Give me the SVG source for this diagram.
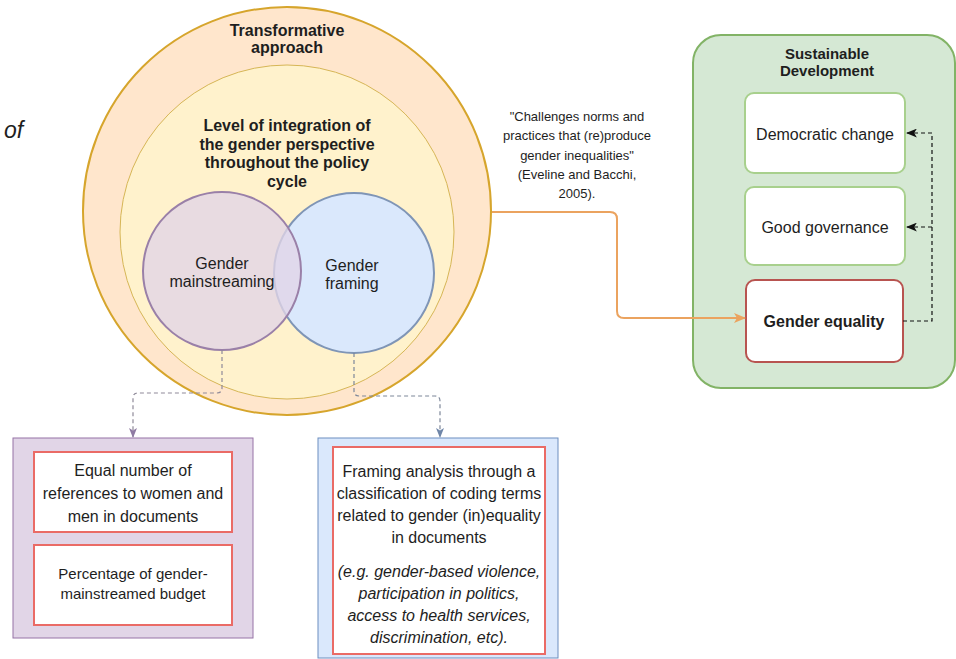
<svg xmlns="http://www.w3.org/2000/svg" width="956" height="659" viewBox="0 0 956 659">
  <defs>
    <style>
      text { font-family: "Liberation Sans", Arial, Helvetica, sans-serif; fill: #1e1e1e; }
      .c { text-anchor: middle; }
      .b { font-weight: bold; }
      .t16 { font-size: 16px; }
      .t15 { font-size: 15px; }
      .t13 { font-size: 13px; }
      .it { font-style: italic; }
      .inbox { fill: #ffffff; stroke: #ea6b66; stroke-width: 2; }
      .greenbox { fill: #ffffff; stroke: #a8d08d; stroke-width: 2; }
      .dash { fill: none; stroke-dasharray: 4 3; stroke-width: 1.2; }
    </style>
    <marker id="arrOrange" viewBox="0 0 12 10" refX="11" refY="5" markerWidth="12" markerHeight="10" markerUnits="userSpaceOnUse" orient="auto">
      <path d="M0,0 L12,5 L0,10 L3,5 Z" fill="#eba35f"/>
    </marker>
    <marker id="arrBlack" viewBox="0 0 10 8" refX="9" refY="4" markerWidth="11" markerHeight="9" markerUnits="userSpaceOnUse" orient="auto">
      <path d="M0,0 L10,4 L0,8 L2.5,4 Z" fill="#111"/>
    </marker>
    <marker id="arrPurple" viewBox="0 0 10 8" refX="9" refY="4" markerWidth="10" markerHeight="8" markerUnits="userSpaceOnUse" orient="auto">
      <path d="M0,0 L10,4 L0,8 L2.5,4 Z" fill="#8f7ba3"/>
    </marker>
    <marker id="arrBlue" viewBox="0 0 10 8" refX="9" refY="4" markerWidth="10" markerHeight="8" markerUnits="userSpaceOnUse" orient="auto">
      <path d="M0,0 L10,4 L0,8 L2.5,4 Z" fill="#6f86a8"/>
    </marker>
  </defs>

  <rect x="0" y="0" width="956" height="659" fill="#ffffff"/>

  <!-- stray word at the left margin -->
  <text x="4" y="138" class="it" style="font-size:23px">of</text>

  <!-- transformative approach (outer ring) -->
  <g id="transformative">
    <circle cx="287" cy="211" r="204" fill="#ffe6cc" stroke="#d6a52c" stroke-width="2"/>
    <text class="c b t16" x="287" y="36">Transformative</text>
    <text class="c b t16" x="287" y="53">approach</text>
  </g>

  <!-- level of integration (inner ring) -->
  <g id="integration">
    <circle cx="287" cy="232" r="167" fill="#fff2cc" stroke="#d6b656" stroke-width="1"/>
    <text class="c b t16" x="287" y="131">Level of integration of</text>
    <text class="c b t16" x="287" y="149.5">the gender perspective</text>
    <text class="c b t16" x="287" y="168">throughout the policy</text>
    <text class="c b t16" x="287" y="186.5">cycle</text>
  </g>

  <g id="gender-framing">
    <circle cx="354" cy="273" r="80" fill="#dae8fc" stroke="#7f95b6" stroke-width="2"/>
    <text class="c t16" x="352" y="271">Gender</text>
    <text class="c t16" x="352" y="289">framing</text>
  </g>

  <g id="gender-mainstreaming">
    <circle cx="222" cy="271" r="79" fill="#e1d5e7" fill-opacity="0.78" stroke="#9a80a8" stroke-width="2"/>
    <text class="c t16" x="222" y="269">Gender</text>
    <text class="c t16" x="222" y="287">mainstreaming</text>
  </g>

  <!-- citation label -->
  <g id="quote">
    <text class="c t13" x="577" y="120.5">"Challenges norms and</text>
    <text class="c t13" x="577" y="140">practices that (re)produce</text>
    <text class="c t13" x="577" y="159.5">gender inequalities"</text>
    <text class="c t13" x="577" y="179">(Eveline and Bacchi,</text>
    <text class="c t13" x="577" y="198">2005).</text>
  </g>

  <!-- sustainable development container -->
  <g id="sustainable-development">
    <rect x="693" y="35" width="262" height="353" rx="28" ry="28" fill="#d5e8d4" stroke="#82b366" stroke-width="2"/>
    <text class="c b t15" x="827" y="59">Sustainable</text>
    <text class="c b t15" x="827" y="76">Development</text>
  </g>

  <g id="democratic-change">
    <rect class="greenbox" x="745" y="93" width="160" height="80" rx="9" ry="9"/>
    <text class="c t16" x="825" y="140">Democratic change</text>
  </g>

  <g id="good-governance">
    <rect class="greenbox" x="745" y="187" width="160" height="78" rx="9" ry="9"/>
    <text class="c t16" x="825" y="233">Good governance</text>
  </g>

  <g id="gender-equality">
    <rect x="746" y="280" width="157" height="82" rx="9" ry="9" fill="#ffffff" stroke="#b85450" stroke-width="2"/>
    <text class="c b t16" x="824" y="327">Gender equality</text>
  </g>

  <!-- mainstreaming indicators -->
  <g id="mainstreaming-indicators">
    <rect x="13" y="438" width="240" height="200" fill="#e1d5e7" stroke="#9673a6" stroke-width="1"/>
    <rect class="inbox" x="34" y="452" width="198" height="80"/>
    <text class="c t16" x="133" y="476">Equal number of</text>
    <text class="c t16" x="133" y="499">references to women and</text>
    <text class="c t16" x="133" y="522">men in documents</text>
    <rect class="inbox" x="34" y="545" width="198" height="80"/>
    <text class="c t15" x="133" y="579">Percentage of gender-</text>
    <text class="c t15" x="133" y="599">mainstreamed budget</text>
  </g>

  <!-- framing indicators -->
  <g id="framing-indicators">
    <rect x="318" y="438" width="240" height="220" fill="#dae8fc" stroke="#6c8ebf" stroke-width="1"/>
    <rect class="inbox" x="333" y="447" width="212" height="207"/>
    <text class="c t16" x="439" y="477">Framing analysis through a</text>
    <text class="c t16" x="439" y="499">classification of coding terms</text>
    <text class="c t16" x="439" y="521">related to gender (in)equality</text>
    <text class="c t16" x="439" y="543">in documents</text>
    <text class="c t16 it" x="439" y="577">(e.g. gender-based violence,</text>
    <text class="c t16 it" x="439" y="599">participation in politics,</text>
    <text class="c t16 it" x="439" y="621">access to health services,</text>
    <text class="c t16 it" x="439" y="643">discrimination, etc).</text>
  </g>

  <!-- connectors -->
  <g id="connectors">
    <path d="M492,212 H610 Q617,212 617,219 V311 Q617,318 624,318 H745" fill="none" stroke="#eba35f" stroke-width="2" marker-end="url(#arrOrange)"/>
    <path class="dash" d="M903,321 H932 V133 H907" stroke="#111" marker-end="url(#arrBlack)"/>
    <path class="dash" d="M932,227 H907" stroke="#111" marker-end="url(#arrBlack)"/>
    <path class="dash" d="M222,350 V388 Q222,393 217,393 H138 Q133,393 133,398 V437" stroke="#8f8a99" marker-end="url(#arrPurple)"/>
    <path class="dash" d="M354,353 V391 Q354,396 359,396 H435 Q440,396 440,401 V437" stroke="#7d8799" marker-end="url(#arrBlue)"/>
  </g>
</svg>
